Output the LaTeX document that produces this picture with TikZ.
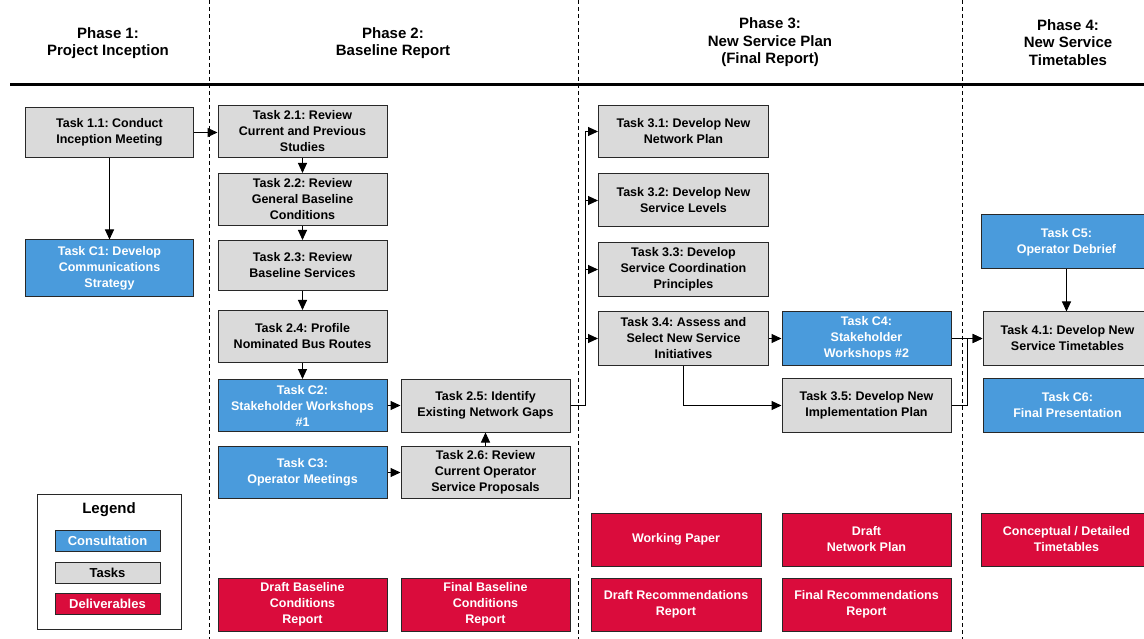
\documentclass[tikz,border=0pt]{standalone}
\usepackage{fontspec}
\setmainfont{Liberation Sans}
\frenchspacing
\usetikzlibrary{arrows.meta}
\definecolor{taskgray}{RGB}{218,218,218}
\definecolor{consblue}{RGB}{74,155,220}
\definecolor{delred}{RGB}{218,12,60}
\definecolor{edge}{RGB}{40,40,40}
\begin{document}
\begin{tikzpicture}[x=1pt,y=-1pt,
  base/.style={draw=edge, line width=1pt, align=center, inner sep=0pt,
    font=\frenchspacing\bfseries\fontsize{12.5}{16}\selectfont},
  taskbox/.style={base, fill=taskgray, text=black},
  consbox/.style={base, fill=consblue, text=white},
  delbox/.style={base, fill=delred, text=white},
  sz/.style 2 args={minimum width=#1, minimum height=#2},
  arr/.style={draw=black, line width=1pt, -{Triangle[length=10pt,width=9pt]}},
  phase/.style={align=center, font=\bfseries\fontsize{15}{17.5}\selectfont},
  divider/.style={draw=black, line width=0.9pt, dash pattern=on 4pt off 3pt},
  legbox/.style={base, font=\bfseries\fontsize{13}{15}\selectfont, minimum width=105, minimum height=21}
]
\clip (0,0) rectangle (1144,639);
\fill[white] (0,0) rectangle (1144,639);

% dividers
\draw[divider] (209.5,0) -- (209.5,639);
\draw[divider] (578.5,0) -- (578.5,639);
\draw[divider] (962.5,0) -- (962.5,639);
\draw[line width=3pt] (10,84.5) -- (1144,84.5);

% phase headers
\node[phase] (ph1) at (108,43) {Phase 1:\\Project Inception};
\node[phase] (ph2) at (393,43) {Phase 2:\\Baseline Report};
\node[phase] (ph3) at (770,42.5) {Phase 3:\\New Service Plan\\(Final Report)};
\node[phase] (ph4) at (1068,42.5) {Phase 4:\\New Service\\Timetables};

% phase 1
\node[taskbox, sz={168}{50}] (t11) at (109.5,132.5) {Task 1.1: Conduct\\Inception Meeting};
\node[consbox, sz={168}{57}] (c1) at (109.5,268.5) {Task C1: Develop\\Communications\\Strategy};

% phase 2
\node[taskbox, sz={169}{52}] (t21) at (302.5,131.5) {Task 2.1: Review\\Current and Previous\\Studies};
\node[taskbox, sz={169}{52}] (t22) at (302.5,199.5) {Task 2.2: Review\\General Baseline\\Conditions};
\node[taskbox, sz={169}{50}] (t23) at (302.5,265.5) {Task 2.3: Review\\Baseline Services};
\node[taskbox, sz={169}{52}] (t24) at (302.5,336.5) {Task 2.4: Profile\\Nominated Bus Routes};
\node[consbox, sz={169}{52}] (c2) at (302.5,405.5) {Task C2:\\Stakeholder Workshops\\\#1};
\node[consbox, sz={169}{52}] (c3) at (302.5,472.5) {Task C3:\\Operator Meetings};
\node[taskbox, sz={169}{53}] (t25) at (485.5,405.5) {Task 2.5: Identify\\Existing Network Gaps};
\node[taskbox, sz={169}{52}] (t26) at (485.5,472.5) {Task 2.6: Review\\Current Operator\\Service Proposals};
\node[delbox, sz={169}{53}] (d1) at (302.5,604.5) {Draft Baseline\\Conditions\\Report};
\node[delbox, sz={169}{53}] (d2) at (485.5,604.5) {Final Baseline\\Conditions\\Report};

% phase 3
\node[taskbox, sz={170}{52}] (t31) at (683.5,131.5) {Task 3.1: Develop New\\Network Plan};
\node[taskbox, sz={170}{53}] (t32) at (683.5,200.5) {Task 3.2: Develop New\\Service Levels};
\node[taskbox, sz={170}{54}] (t33) at (683.5,269.5) {Task 3.3: Develop\\Service Coordination\\Principles};
\node[taskbox, sz={170}{53}] (t34) at (683.5,338.5) {Task 3.4: Assess and\\Select New Service\\Initiatives};
\node[consbox, sz={169}{53}] (c4) at (866.5,338.5) {Task C4:\\Stakeholder\\Workshops \#2};
\node[taskbox, sz={169}{54}] (t35) at (866.5,405.5) {Task 3.5: Develop New\\Implementation Plan};
\node[delbox, sz={170}{53}] (d3) at (676,539.5) {Working Paper};
\node[delbox, sz={169}{53}] (d4) at (866.5,539.5) {Draft\\Network Plan};
\node[delbox, sz={170}{53}] (d5) at (676,604.5) {Draft Recommendations\\Report};
\node[delbox, sz={169}{53}] (d6) at (866.5,604.5) {Final Recommendations\\Report};

% phase 4
\node[consbox, sz={171}{54}] (c5) at (1066.5,242) {Task C5:\\Operator Debrief};
\node[taskbox, sz={169}{53}] (t41) at (1067.5,338.5) {Task 4.1: Develop New\\Service Timetables};
\node[consbox, sz={169}{54}] (c6) at (1067.5,405) {Task C6:\\Final Presentation};
\node[delbox, sz={171}{53}] (d7) at (1066.5,539.5) {Conceptual / Detailed\\Timetables};

% legend
\node[draw=edge, line width=1pt, minimum width=144, minimum height=135, inner sep=0pt] (leg) at (109,561.5) {};
\node[font=\bfseries\fontsize{15}{17}\selectfont] (legt) at (109,510) {Legend};
\node[legbox, fill=consblue, text=white] (l1) at (107.5,540.5) {Consultation};
\node[legbox, fill=taskgray, text=black] (l2) at (107.5,572.5) {Tasks};
\node[legbox, fill=delred, text=white] (l3) at (107.5,604) {Deliverables};

% connectors
\draw[arr] (t11.south) -- (c1.north);
\draw[arr] (t11.east) -- (t11.east -| t21.west);
\draw[arr] (t21.south) -- (t22.north);
\draw[arr] (t22.south) -- (t23.north);
\draw[arr] (t23.south) -- (t24.north);
\draw[arr] (t24.south) -- (c2.north);
\draw[arr] (c2.east) -- (c2.east -| t25.west);
\draw[arr] (c3.east) -- (t26.west);
\draw[arr] (t26.north) -- (t25.south);
\draw[arr] (t25.east) -- ++(15,0) |- (t31.west);
\draw[arr] (t25.east) -- ++(15,0) |- (t32.west);
\draw[arr] (t25.east) -- ++(15,0) |- (t33.west);
\draw[arr] (t25.east) -- ++(15,0) |- (t34.west);
\draw[arr] (t34.east) -- (c4.west);
\draw[arr] (t34.south) |- (t35.west);
\draw[arr] (c4.east) -- (t41.west);
\draw[arr] (t35.east) -- ++(16,0) |- (t41.west);
\draw[arr] (c5.south) -- (c5.south |- t41.north);
\end{tikzpicture}
\end{document}
